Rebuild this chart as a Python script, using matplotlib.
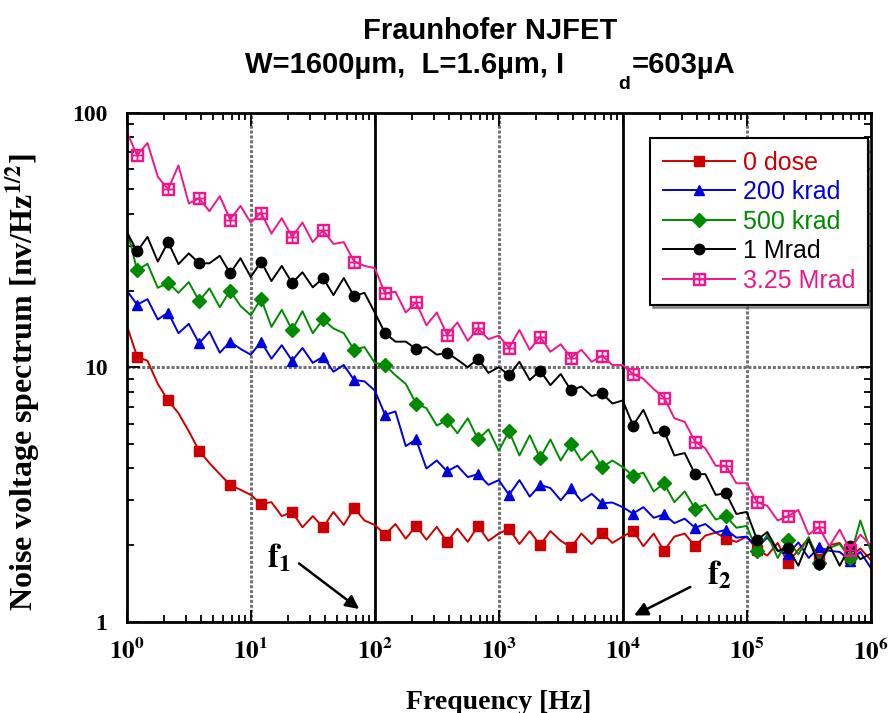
import numpy as np
import matplotlib
matplotlib.use("Agg")
from matplotlib import pyplot as plt

# measurement grid: 12 points per decade from 1 Hz to 1 MHz
freq = 10 ** (np.arange(73) / 12.0)

dose_0 = [14.6, 11.0, 10.6, 8.6, 7.4, 6.6, 5.6, 4.7, 4.2, 3.8, 3.45, 3.3,
          3.15, 2.9, 2.95, 2.6, 2.7, 2.35, 2.6, 2.35, 2.7, 2.4, 2.8, 2.5,
          2.4, 2.2, 2.42, 2.12, 2.38, 2.1, 2.36, 2.06, 2.32, 2.06, 2.38, 2.08,
          2.22, 2.32, 2.02, 2.27, 2.0, 2.27, 2.08, 1.96, 2.22, 2.02, 2.24, 2.04,
          2.16, 2.28, 1.98, 2.22, 1.9, 2.16, 2.22, 1.98, 2.18, 2.24, 2.12, 2.06,
          2.16, 1.92, 1.82, 2.04, 1.7, 1.92, 2.12, 1.76, 2.0, 2.04, 1.78, 1.94,
          1.75]
dose_200k = [20, 17.6, 18.5, 15.4, 16.4, 13.6, 14.8, 12.4, 13.8, 11.4, 12.6, 11.8,
             11.2, 12.6, 10.8, 12.2, 10.6, 11.9, 10.4, 11.0, 9.6, 10.2, 8.9, 8.8,
             8.1, 6.5, 6.7, 4.9, 5.2, 4.0, 4.3, 3.9, 4.1, 3.7, 3.8, 3.45,
             3.6, 3.15, 3.6, 3.1, 3.45, 3.35, 3.0, 3.35, 2.98, 3.18, 2.92, 2.94,
             2.82, 2.66, 2.82, 2.56, 2.64, 2.44, 2.54, 2.34, 2.42, 2.24, 2.3, 2.14,
             2.16, 1.96, 2.14, 1.9, 1.84, 2.05, 1.78, 1.96, 1.9, 1.88, 1.74, 1.88,
             1.63]
dose_500k = [35, 24, 25.5, 20.5, 21.5, 19.6, 21.6, 18.2, 20.4, 17.2, 20.0, 17.4,
             16.0, 18.6, 14.4, 16.8, 14.0, 16.6, 13.6, 15.4, 14.2, 13.6, 11.7, 12.0,
             10.4, 10.2, 9.3, 8.6, 7.2, 6.9, 5.9, 6.2, 5.5, 6.3, 5.2, 5.7,
             4.7, 5.6, 4.5, 5.4, 4.4, 5.2, 4.3, 5.0, 4.3, 4.7, 4.05, 4.3,
             4.05, 3.75, 3.85, 3.25, 3.5, 2.95, 3.25, 2.78, 2.88, 2.52, 2.6, 2.34,
             2.38, 1.9, 2.2, 1.78, 2.1, 1.84, 2.15, 1.7, 1.95, 2.02, 1.78, 2.5,
             1.9]
dose_1M = [34, 28.5, 32.5, 26, 31, 25.4, 28, 25.6, 25.6, 27.4, 23.4, 26.8,
           22.6, 26.0, 21.8, 25.0, 21.4, 23.6, 20.6, 22.4, 19.2, 22.4, 19.0, 19.6,
           16.4, 13.6, 12.6, 12.6, 11.8, 12.0, 11.2, 11.4, 10.7, 10.0, 10.8, 9.5,
           10.0, 9.3, 10.5, 8.9, 9.7, 8.5, 9.4, 8.1, 8.4, 7.7, 7.9, 7.2,
           7.4, 5.9, 6.8, 5.5, 5.6, 4.5, 4.6, 3.8, 3.8, 3.15, 3.2, 2.65,
           2.7, 2.1, 2.25, 1.9, 1.95, 1.66, 2.1, 1.68, 2.0, 1.66, 1.98, 1.76,
           1.85]
dose_3M = [84, 68, 76, 56, 50, 62, 44, 46, 41, 47, 38, 43,
           37, 40.5, 33.5, 38.5, 32.5, 37, 31, 34.5, 30.5, 31, 26, 25,
           24.5, 19.5, 19.8, 16.4, 18.0, 14.6, 16.4, 13.4, 15.0, 12.7, 14.2, 12.9,
           13.3, 11.9, 14.0, 11.7, 13.2, 11.5, 12.3, 10.9, 11.7, 10.5, 11.1, 10.2,
           10.2, 9.4, 9.0, 8.2, 7.6, 6.3, 6.1, 5.1, 4.8, 4.1, 4.1, 3.5,
           3.5, 2.95, 2.85, 2.5, 2.6, 2.75, 2.2, 2.35, 1.98, 2.3, 1.92, 2.2,
           2.0]

labels = ["0 dose", "200 krad", "500 krad", "1 Mrad", "3.25 Mrad"]
colors = ["#cc0000", "#0000dd", "#008a00", "black", "#f0168c"]
markers = ["s", "^", "D", "o", r"$\boxplus$"]
msizes = [7.5, 7.5, 7.5, 7.5, 9]
series = [dose_0, dose_200k, dose_500k, dose_1M, dose_3M]

plt.rcParams["mathtext.fontset"] = "stix"
serif = "Liberation Serif"
sans = "Liberation Sans"

fig = plt.figure(figsize=(8.93, 7.13), dpi=100)
ax = fig.add_axes([0.142, 0.128, 0.833, 0.714])

for vals, lab, c, m, ms in zip(series, labels, colors, markers, msizes):
    ax.plot(freq, vals, color=c, lw=1.4, marker=m, ms=ms, markevery=(1, 3),
            label=lab)

ax.set_xscale("log")
ax.set_yscale("log")
ax.set_xlim(1, 1e6)
ax.set_ylim(1, 100)

# grid: dotted grey at 10, 1e3, 1e5 and y=10, solid at f1 / f2
for xv in [10, 1e3, 1e5]:
    ax.axvline(xv, color="0.45", lw=2.2, ls=(0, (1, 0.6)), zorder=0)
ax.axhline(10, color="0.45", lw=2.2, ls=(0, (1, 0.6)), zorder=0)
for xv in [100, 1e4]:
    ax.axvline(xv, color="black", lw=2, zorder=0)

ax.set_xticks([10 ** k for k in range(7)])
ax.set_xticklabels([r"$\mathbf{10^{%d}}$" % k for k in range(7)], fontsize=18)
ax.set_yticks([1, 10, 100])
ax.set_yticklabels(["1", "10", "100"], fontsize=17, fontfamily=serif,
                   fontweight="bold")
ax.tick_params(which="both", direction="in", top=True, right=True, width=1.3)
ax.tick_params(which="major", length=9, pad=12)
ax.tick_params(which="minor", length=5)
ax.tick_params(axis="y", which="major", pad=14)
for s in ax.spines.values():
    s.set_linewidth(2)

ax.set_xlabel("Frequency [Hz]", fontsize=20, fontfamily=serif,
              fontweight="bold", labelpad=18)
ax.set_ylabel(r"Noise voltage spectrum [nv/Hz$^{\mathbf{1/2}}$]", fontsize=23,
              fontfamily=serif, fontweight="bold")
ax.yaxis.set_label_coords(-0.113, 0.47)

leg = ax.legend(loc="upper right", bbox_to_anchor=(0.996, 0.95), borderaxespad=0,
                fancybox=False, shadow=True, edgecolor="black", framealpha=1,
                handlelength=2.9, handletextpad=0.3, numpoints=1,
                labelspacing=0.22, borderpad=0.5,
                prop={"family": sans, "size": 18})
leg.get_frame().set_linewidth(1.5)
for t, c in zip(leg.get_texts(), colors):
    t.set_color(c)

# f1 / f2 markers
ax.annotate("", xy=(78, 1.105), xytext=(23.5, 1.72),
            arrowprops=dict(arrowstyle="-|>", color="black", lw=1.8,
                            mutation_scale=20))
ax.text(13.5, 1.63, r"$\mathbf{f}_{\mathbf{1}}$", fontsize=24)
ax.annotate("", xy=(11800, 1.046), xytext=(36700, 1.385),
            arrowprops=dict(arrowstyle="-|>", color="black", lw=1.8,
                            mutation_scale=20))
ax.text(47500, 1.40, r"$\mathbf{f}_{\mathbf{2}}$", fontsize=24)

fig.text(0.549, 0.956, "Fraunhofer NJFET", ha="center", va="center",
         fontsize=21, fontfamily=sans, fontweight="bold")
fig.text(245 / 893, 0.909, "W=1600\u00b5m,  L=1.6\u00b5m, I",
         ha="left", va="center", fontsize=21, fontfamily=sans,
         fontweight="bold")
fig.text(624 / 893, 0.881, "d", ha="center", va="center", fontsize=14,
         fontfamily=sans, fontweight="bold")
fig.text(632 / 893, 0.909, "=603\u00b5A", ha="left", va="center", fontsize=21,
         fontfamily=sans, fontweight="bold")

fig.savefig("out.png", dpi=100)
